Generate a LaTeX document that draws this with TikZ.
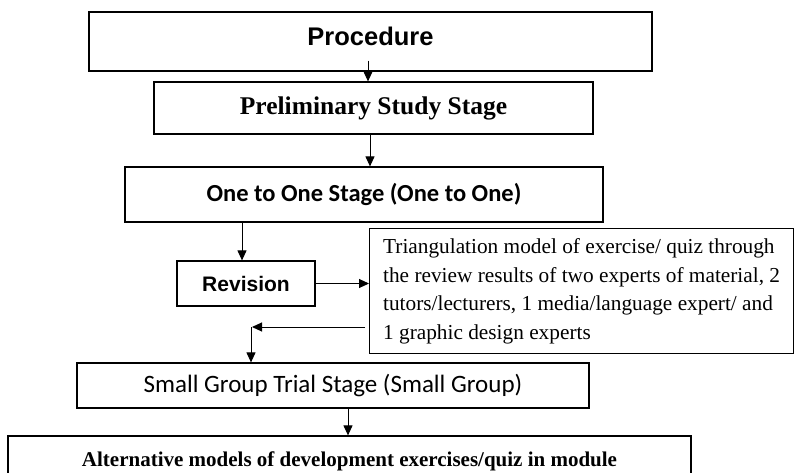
\documentclass[tikz,border=0pt]{standalone}
\usepackage{fontspec}
\usepackage{tikz}
\usetikzlibrary{arrows.meta}

\newfontfamily\arialfont{Liberation Sans}
\newfontfamily\timesfont{Liberation Serif}
\newfontfamily\calibrifont{Carlito}

\tikzset{
  stagebox/.style={draw, line width=1.2pt, inner sep=0pt},
  flowarrow/.style={line width=1pt, -{Triangle[length=10pt,width=9pt]}}
}

\begin{document}
\begin{tikzpicture}[x=1pt,y=-1pt]

\useasboundingbox (0,0) rectangle (794,473);
\clip (0,0) rectangle (794,473);

% stages
\node [stagebox, minimum width=563pt, minimum height=59pt, text depth=11pt,
  font=\arialfont\bfseries\fontsize{25.5}{30}\selectfont] (proc) at (370.5,41.5) {Procedure};

\node [stagebox, minimum width=439pt, minimum height=52pt,
  font=\timesfont\bfseries\fontsize{25.5}{30}\selectfont] (prelim) at (373.5,108) {Preliminary Study Stage};

\node [stagebox, minimum width=478pt, minimum height=55pt,
  font=\calibrifont\bfseries\fontsize{24.5}{29}\selectfont] (onetoone) at (364,194.5) {One to One Stage (One to One)};

\node [stagebox, minimum width=138pt, minimum height=45pt,
  font=\arialfont\bfseries\fontsize{21}{25}\selectfont] (revision) at (246,283.5) {Revision};

\node [stagebox, anchor=north west, minimum width=424pt, minimum height=125pt, align=left,
  font=\timesfont\fontsize{21.3}{28.5}\selectfont] (triang) at (369,228)
  {Triangulation model of exercise/ quiz through\\
   the review results of two experts of material, 2\\
   tutors/lecturers, 1 media/language expert/ and\\
   1 graphic design experts};

\node [stagebox, minimum width=512pt, minimum height=45pt,
  font=\calibrifont\fontsize{25}{29}\selectfont] (smallgroup) at (333,385.5) {Small Group Trial Stage (Small Group)};

\node [stagebox, minimum width=683pt, minimum height=50pt,
  font=\timesfont\bfseries\fontsize{21}{25}\selectfont] (alternative) at (349.5,461) {Alternative models of development exercises/quiz in module};

\coordinate (bend) at (251,327); % corner of the way back

% arrows
\draw[flowarrow] ([xshift=-2.5pt,yshift=11pt]proc.south) -- ([xshift=-2.5pt]proc.south |- prelim.north);
\draw[flowarrow] ([xshift=-3.5pt]prelim.south) -- ([xshift=-3.5pt]prelim.south |- onetoone.north);
\draw[flowarrow] ([xshift=-4pt]revision.north |- onetoone.south) -- ([xshift=-4pt]revision.north);
\draw[flowarrow] (revision.east) -- (revision.east -| triang.west);
\draw[flowarrow] ([xshift=-4pt]triang.west |- bend) -- ([xshift=1pt]bend);
\draw[flowarrow] (bend) -- (bend |- smallgroup.north);
\draw[flowarrow] ([xshift=-1.5pt]alternative.north |- smallgroup.south) -- ([xshift=-1.5pt]alternative.north);

\end{tikzpicture}
\end{document}
